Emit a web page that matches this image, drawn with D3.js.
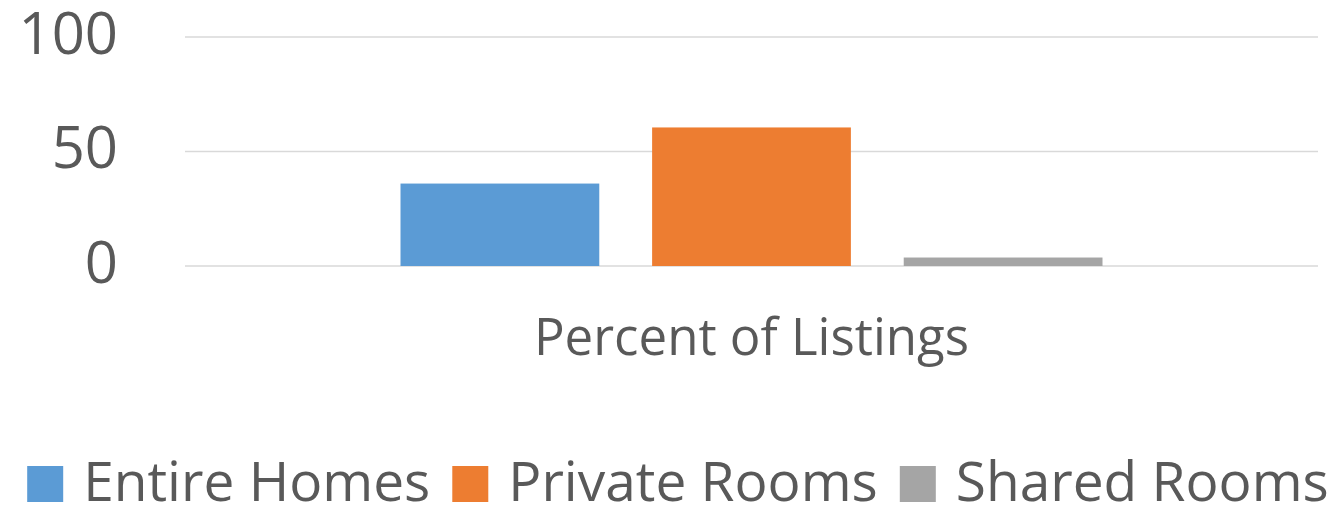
<!DOCTYPE html>
<html>
<head>
<meta charset="utf-8">
<script src="https://cdn.jsdelivr.net/npm/d3@7"></script>
<style>
  body { margin: 0; background: #fff; }
  text { font-family: "Open Sans", sans-serif; fill: #595959; }
</style>
</head>
<body>
<script>
// data
let categories = ['Percent of Listings']
let seriesNames = ['Entire Homes', 'Private Rooms', 'Shared Rooms']
let seriesValues = [36, 60.5, 3.7]
let seriesColors = ['#5b9bd5', '#ed7d31', '#a5a5a5']
let yTicks = [0, 50, 100]

let width = 1332, height = 506
let plotLeft = 185, plotRight = 1318, plotTop = 37, plotBottom = 266

let svg = d3.select('body').append('svg')
  .attr('width', width)
  .attr('height', height)

let scaleY = d3.scaleLinear().domain([0, 100]).range([plotBottom, plotTop])
let scaleX = d3.scaleBand().domain(categories).range([plotLeft, plotRight])
  .paddingInner(0).paddingOuter(0.307)
let scaleS = d3.scaleBand().domain(seriesNames).range([0, scaleX.bandwidth()])
  .paddingInner(0.21).paddingOuter(0)

// gridlines
svg.append('g')
  .selectAll('line')
  .data(yTicks)
  .enter().append('line')
  .attr('x1', plotLeft).attr('x2', plotRight)
  .attr('y1', d => scaleY(d)).attr('y2', d => scaleY(d))
  .attr('stroke', '#d9d9d9')
  .attr('stroke-width', 1.5)

// y axis labels
let yAxis = svg.append('g')
  .attr('transform', 'translate(118,0)')
  .call(d3.axisLeft(scaleY).tickValues(yTicks).tickSize(0).tickPadding(0))
yAxis.select('.domain').remove()
yAxis.selectAll('text')
  .attr('font-family', '"Open Sans", sans-serif')
  .attr('font-size', 58)
  .attr('dy', '0.28em')
  .attr('fill', '#595959')

// bars
svg.append('g')
  .selectAll('g')
  .data(categories)
  .enter().append('g')
  .attr('transform', d => 'translate(' + scaleX(d) + ',0)')
  .selectAll('rect')
  .data(seriesNames.map((s, i) => ({key: s, value: seriesValues[i], color: seriesColors[i]})))
  .enter().append('rect')
  .attr('x', d => scaleS(d.key))
  .attr('y', d => scaleY(d.value))
  .attr('width', scaleS.bandwidth())
  .attr('height', d => scaleY(0) - scaleY(d.value))
  .attr('fill', d => d.color)

// category axis label
let xAxis = svg.append('g')
  .attr('transform', 'translate(0,' + 319 + ')')
  .call(d3.axisBottom(scaleX).tickSize(0).tickPadding(0))
xAxis.select('.domain').remove()
xAxis.selectAll('text')
  .attr('font-family', '"Open Sans", sans-serif')
  .attr('font-size', 51)
  .attr('fill', '#595959')

// legend
let legend = svg.append('g')
let items = legend.selectAll('g')
  .data(seriesNames)
  .enter().append('g')
items.append('rect')
  .attr('width', 36).attr('height', 36)
  .attr('y', 466)
  .attr('fill', (d, i) => seriesColors[i])
items.append('text')
  .attr('x', 56)
  .attr('y', 501)
  .attr('font-size', 55)
  .text(d => d)

let x = 0
items.each(function () {
  let g = d3.select(this)
  g.attr('transform', 'translate(' + x + ',0)')
  x += 56 + g.select('text').node().getComputedTextLength() + 22
})
let total = x - 22
legend.attr('transform', 'translate(' + (678 - total / 2) + ',0)')
</script>
</body>
</html>
